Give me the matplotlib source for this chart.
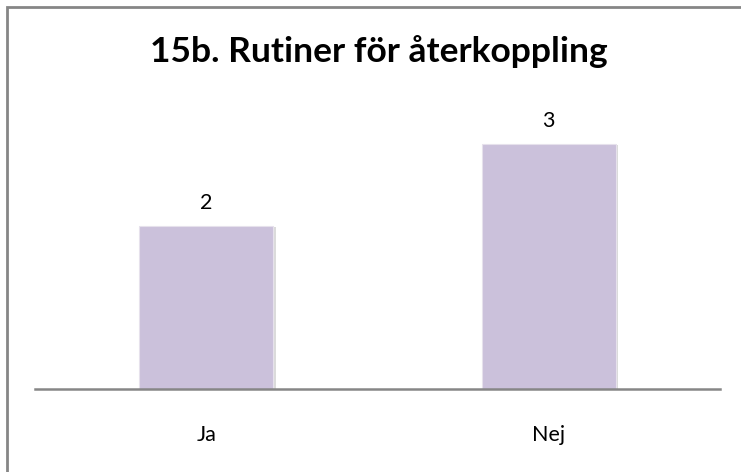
import matplotlib.pyplot as plt
import matplotlib.patheffects as pe
from matplotlib.patches import Rectangle

categories = ["Ja", "Nej"]
values = [2, 3]
title = "15b. Rutiner för återkoppling"

plt.rcParams['font.family'] = ['Lato', 'DejaVu Sans']

W, H = 741, 472
fig = plt.figure(figsize=(W / 100, H / 100), dpi=100)

# outer chart border (right and bottom edges fall outside the image)
fig.add_artist(Rectangle((7 / W, -0.05), 1.1, 1 - 7 / H + 0.05,
                         transform=fig.transFigure, fill=False,
                         edgecolor='#868686', linewidth=2))

ax = fig.add_axes([35 / W, (H - 389) / H, (720 - 35) / W, (389 - 62) / H])
bars = ax.bar(range(len(categories)), values, width=0.39, color='#CBC1DB',
              edgecolor='#E6E1EC', linewidth=0.8)
for b in bars:
    b.set_path_effects([pe.SimplePatchShadow(offset=(2, -1), shadow_rgbFace='#999999', alpha=0.35),
                        pe.Normal()])

for i, v in enumerate(values):
    ax.text(i, v + 0.15, str(v), ha='center', va='bottom', fontsize=15.5)

ax.set_xlim(-0.5, 1.5)
ax.set_ylim(0, 4)
ax.set_yticks([])
ax.set_xticks(range(len(categories)))
ax.set_xticklabels(categories, fontsize=15.5)
ax.tick_params(axis='x', length=0, pad=26)
for s in ['top', 'right', 'left']:
    ax.spines[s].set_visible(False)
ax.spines['bottom'].set_color('#868686')
ax.spines['bottom'].set_linewidth(1.8)

fig.text(379 / W, 1 - 52 / H, title, ha='center', va='center',
         fontsize=25.5, fontweight='bold')

fig.savefig('out.png', dpi=100)
